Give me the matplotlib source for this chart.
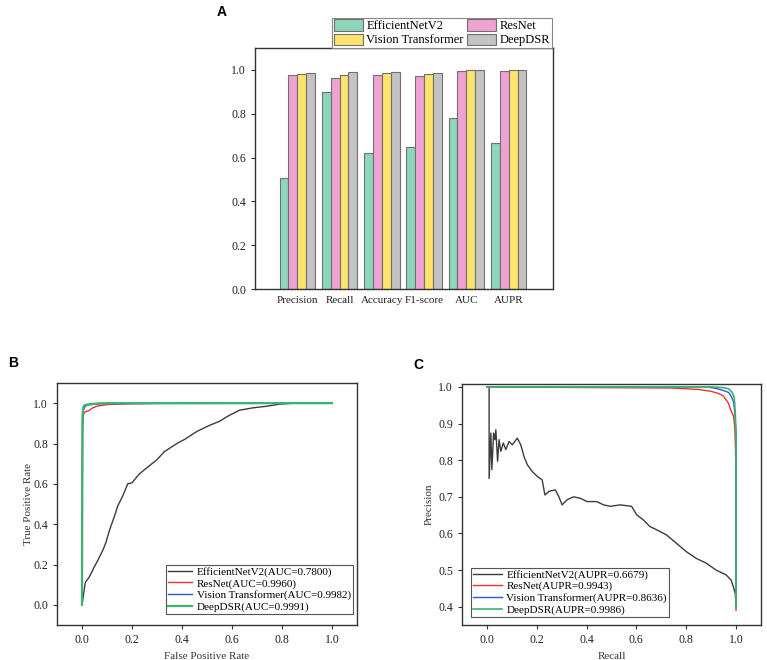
import numpy as np
from matplotlib import pyplot as plt

plt.rcParams['font.family'] = ['Liberation Serif', 'DejaVu Serif']

# ---- panel A data ----
metrics = ["Precision", "Recall", "Accuracy", "F1-score", "AUC", "AUPR"]
models = ["EfficientNetV2", "ResNet", "Vision Transformer", "DeepDSR"]
eff_vals = [0.508, 0.901, 0.623, 0.648, 0.780, 0.667]
res_vals = [0.978, 0.961, 0.976, 0.970, 0.996, 0.994]
vit_vals = [0.980, 0.976, 0.984, 0.979, 0.998, 0.998]
dsr_vals = [0.984, 0.989, 0.989, 0.986, 0.999, 0.999]
bar_colors = ["#8dd5bb", "#f0a2d2", "#fde46c", "#c3c3c3"]

# ---- panel B data (ROC) ----
eff_fpr = [0, 0.005, 0.013, 0.03, 0.05, 0.063, 0.083, 0.096, 0.11, 0.13, 0.143, 0.163,
           0.183, 0.2, 0.23, 0.26, 0.30, 0.33, 0.38, 0.41, 0.46, 0.51, 0.55, 0.59,
           0.63, 0.685, 0.74, 0.79, 0.85, 1.0]
eff_tpr = [0, 0.04, 0.11, 0.14, 0.19, 0.22, 0.27, 0.31, 0.37, 0.44, 0.49, 0.54,
           0.60, 0.605, 0.65, 0.68, 0.72, 0.76, 0.80, 0.82, 0.86, 0.89, 0.91, 0.94,
           0.965, 0.977, 0.985, 0.995, 1.0, 1.0]
res_fpr = [0, 0.002, 0.005, 0.01, 0.02, 0.03, 0.04, 0.06, 0.1, 0.2, 0.33, 1.0]
res_tpr = [0, 0.85, 0.94, 0.955, 0.96, 0.965, 0.975, 0.985, 0.993, 0.997, 1.0, 1.0]
vit_fpr = [0, 0.002, 0.005, 0.01, 0.02, 0.05, 0.1, 1.0]
vit_tpr = [0, 0.90, 0.96, 0.98, 0.99, 0.995, 0.998, 1.0]
dsr_fpr = [0, 0.002, 0.005, 0.01, 0.03, 0.08, 1.0]
dsr_tpr = [0, 0.93, 0.98, 0.99, 0.995, 1.0, 1.0]
roc_labels = ["EfficientNetV2(AUC=0.7800)", "ResNet(AUC=0.9960)",
              "Vision Transformer(AUC=0.9982)", "DeepDSR(AUC=0.9991)"]

# ---- panel C data (PR) ----
eff_rec = [0.009, 0.009, 0.016, 0.020, 0.027, 0.032, 0.036, 0.043, 0.049, 0.056, 0.066,
           0.076, 0.089, 0.102, 0.122, 0.136, 0.149, 0.162, 0.182, 0.202, 0.222, 0.233,
           0.249, 0.275, 0.289, 0.302, 0.322, 0.348, 0.375, 0.402, 0.441, 0.468, 0.495,
           0.535, 0.581, 0.601, 0.628, 0.654, 0.681, 0.721, 0.761, 0.801, 0.840, 0.880,
           0.920, 0.960, 0.980, 0.989, 0.997, 1.0]
eff_prec = [1.0, 0.75, 0.874, 0.774, 0.874, 0.856, 0.883, 0.797, 0.856, 0.824, 0.847,
            0.829, 0.851, 0.842, 0.86, 0.842, 0.81, 0.788, 0.769, 0.756, 0.746, 0.705,
            0.715, 0.719, 0.70, 0.678, 0.692, 0.70, 0.696, 0.687, 0.687, 0.678, 0.674,
            0.678, 0.674, 0.651, 0.637, 0.619, 0.61, 0.596, 0.573, 0.55, 0.532, 0.519,
            0.50, 0.487, 0.473, 0.455, 0.436, 0.40]
res_rec = [0, 0.74, 0.8, 0.85, 0.9, 0.93, 0.95, 0.96, 0.97, 0.98, 0.99, 0.995, 0.998, 1.0, 1.0]
res_prec = [1.0, 0.997, 0.995, 0.993, 0.988, 0.982, 0.975, 0.965, 0.955, 0.935, 0.92,
            0.89, 0.83, 0.72, 0.39]
vit_rec = [0, 0.88, 0.92, 0.95, 0.97, 0.98, 0.99, 0.995, 1.0, 1.0]
vit_prec = [1.0, 1.0, 0.996, 0.99, 0.985, 0.975, 0.96, 0.93, 0.88, 0.42]
dsr_rec = [0, 0.9, 0.95, 0.97, 0.985, 0.993, 0.997, 1.0, 1.0]
dsr_prec = [1.0, 1.0, 0.998, 0.995, 0.985, 0.97, 0.93, 0.85, 0.40]
pr_labels = ["EfficientNetV2(AUPR=0.6679)", "ResNet(AUPR=0.9943)",
             "Vision Transformer(AUPR=0.8636)", "DeepDSR(AUPR=0.9986)"]

line_colors = ["#3c3c3c", "#f03030", "#2060d0", "#3cb46e"]
line_widths = [1.0, 1.0, 1.0, 1.6]
spine_col = "#333333"


def style_axes(ax):
    for s in ax.spines.values():
        s.set_color(spine_col)
        s.set_linewidth(1.0)
    ax.tick_params(direction='out', length=3, width=0.8, colors=spine_col,
                   labelcolor='#222222', labelsize=8.5)


fig = plt.figure(figsize=(7.67, 6.6), dpi=100)

# ---------- A ----------
axA = fig.add_axes([0.3325, 0.5621, 0.3885, 0.3652])
x = np.arange(len(metrics))
w = 0.21
for i, (vals, name) in enumerate(zip([eff_vals, res_vals, vit_vals, dsr_vals], models)):
    axA.bar(x + (i - 1.5) * w, vals, width=w, color=bar_colors[i], edgecolor="#707070",
            linewidth=0.8, label=name)
axA.set_xlim(-1.0, 6.05)
axA.set_ylim(0, 1.1)
axA.set_xticks(x)
axA.set_xticklabels(metrics)
axA.set_yticks([0.0, 0.2, 0.4, 0.6, 0.8, 1.0])
style_axes(axA)
axA.tick_params(axis='x', length=0, pad=5, labelsize=8)
h, l = axA.get_legend_handles_labels()
order = [0, 2, 1, 3]
legA = axA.legend([h[k] for k in order], [l[k] for k in order], ncol=2,
                  loc='lower right', bbox_to_anchor=(0.997, 1.0), borderaxespad=0,
                  fontsize=9, fancybox=False, framealpha=1, edgecolor='#888888',
                  handlelength=2.3, handleheight=1.0, columnspacing=0.3,
                  labelspacing=0.1, borderpad=0.12, handletextpad=0.3)
legA.get_frame().set_linewidth(0.8)
fig.text(222 / 767, 1 - 12 / 660, "A", family='Liberation Sans', weight='bold',
         fontsize=10, ha='center', va='center')

# ---------- B ----------
axB = fig.add_axes([0.0743, 0.053, 0.3911, 0.3667])
roc = [(eff_fpr, eff_tpr), (res_fpr, res_tpr), (vit_fpr, vit_tpr), (dsr_fpr, dsr_tpr)]
for i, (fx, ty) in enumerate(roc):
    axB.plot(fx, ty, color=line_colors[i], lw=line_widths[i], label=roc_labels[i])
axB.set_xlim(-0.1, 1.1)
axB.set_ylim(-0.1, 1.1)
axB.set_xticks([0.0, 0.2, 0.4, 0.6, 0.8, 1.0])
axB.set_yticks([0.0, 0.2, 0.4, 0.6, 0.8, 1.0])
style_axes(axB)
axB.set_xlabel("False Positive Rate", fontsize=8, color='#333333', labelpad=4)
axB.set_ylabel("True Positive Rate", fontsize=8, color='#333333', labelpad=0)
legB = axB.legend(loc='lower right', bbox_to_anchor=(0.987, 0.045), borderaxespad=0,
                  fontsize=8, fancybox=False, framealpha=1, edgecolor='#555555',
                  handlelength=2.2, labelspacing=0.15, borderpad=0.2, handletextpad=0.4)
legB.get_frame().set_linewidth(0.8)
fig.text(8 / 767, 1 - 363 / 660, "B", family='Liberation Sans', weight='bold',
         fontsize=10, ha='left', va='center')

# ---------- C ----------
axC = fig.add_axes([0.6023, 0.053, 0.3898, 0.3652])
pr = [(eff_rec, eff_prec), (res_rec, res_prec), (vit_rec, vit_prec), (dsr_rec, dsr_prec)]
for i, (rx, py) in enumerate(pr):
    axC.plot(rx, py, color=line_colors[i], lw=line_widths[i] if i < 3 else 1.2,
             label=pr_labels[i])
axC.set_xlim(-0.1, 1.1)
axC.set_ylim(0.35, 1.008)
axC.set_xticks([0.0, 0.2, 0.4, 0.6, 0.8, 1.0])
axC.set_yticks([0.4, 0.5, 0.6, 0.7, 0.8, 0.9, 1.0])
style_axes(axC)
axC.set_xlabel("Recall", fontsize=8, color='#333333', labelpad=4)
axC.set_ylabel("Precision", fontsize=8, color='#333333', labelpad=3)
legC = axC.legend(loc='lower left', bbox_to_anchor=(0.03, 0.033), borderaxespad=0,
                  fontsize=8, fancybox=False, framealpha=1, edgecolor='#555555',
                  handlelength=2.6, labelspacing=0.15, borderpad=0.2, handletextpad=0.4)
legC.get_frame().set_linewidth(0.8)
fig.text(418 / 767, 1 - 365 / 660, "C", family='Liberation Sans', weight='bold',
         fontsize=10, ha='center', va='center')

fig.savefig("out.png", dpi=100)
